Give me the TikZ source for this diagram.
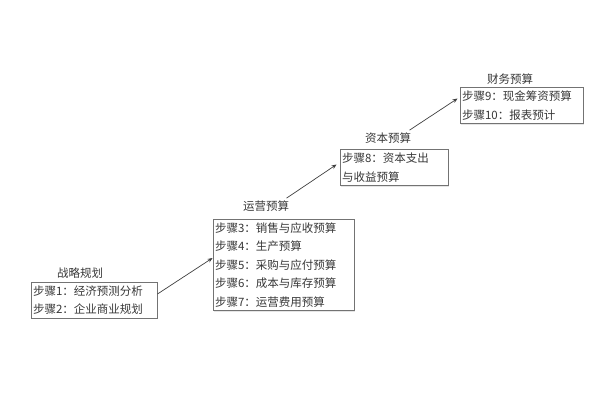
\documentclass[tikz,border=0pt]{standalone}
\usepackage{xcolor}
\usepackage{tikz}
\usepackage{fontspec}
\newfontfamily\cjk{Noto Sans CJK SC}
\usetikzlibrary{shadows, arrows.meta, positioning}

\begin{document}
\begin{tikzpicture}[x=1pt,y=1pt]
        \useasboundingbox[fill=white] (0,0) rectangle (600,-400);
        \begin{scope}[every node/.style={font=\cjk\fontsize{11.5}{18.4}\selectfont,text=black!78},
            stepbox/.style={draw=black!55,line width=0.9pt,align=left,inner xsep=2pt,inner ysep=3.5pt,
              fill=white,drop shadow={opacity=0.2,shadow xshift=1.2pt,shadow yshift=-1.2pt}}]
          % titles
          \node (zl) at (80,-273) {战略规划};
          \node (yy) at (266,-206) {运营预算};
          \node (zb) at (388,-138) {资本预算};
          \node (cw) at (510,-79) {财务预算};
          % boxes
          \node[stepbox,text width=122pt] (s12) at (94,-300) {步骤1：经济预测分析\\步骤2：企业商业规划};
          \node[stepbox,text width=137pt] (s37) at (283.5,-265) {步骤3：销售与应收预算\\步骤4：生产预算\\步骤5：采购与应付预算\\步骤6：成本与库存预算\\步骤7：运营费用预算};
          \node[stepbox,text width=104pt] (s8) at (394,-167.5) {步骤8：资本支出\\与收益预算};
          \node[stepbox,text width=119pt] (s910) at (521.5,-105.5) {步骤9：现金筹资预算\\步骤10：报表预计};
        \end{scope}
        \begin{scope}[every path/.style={draw=black!75,line width=0.7pt,-{Stealth[length=5pt,width=4pt]}}]
          \path ([yshift=6pt]s12.east) -- ([yshift=7pt]s37.west);
          \path ([xshift=-6pt,yshift=-1pt]yy.north east) -- ([xshift=-3pt,yshift=3pt]s8.west);
          \path ([xshift=-5pt,yshift=-1pt]zb.north east) -- ([xshift=-2pt,yshift=7pt]s910.west);
        \end{scope}
      \end{tikzpicture}
\end{document}
